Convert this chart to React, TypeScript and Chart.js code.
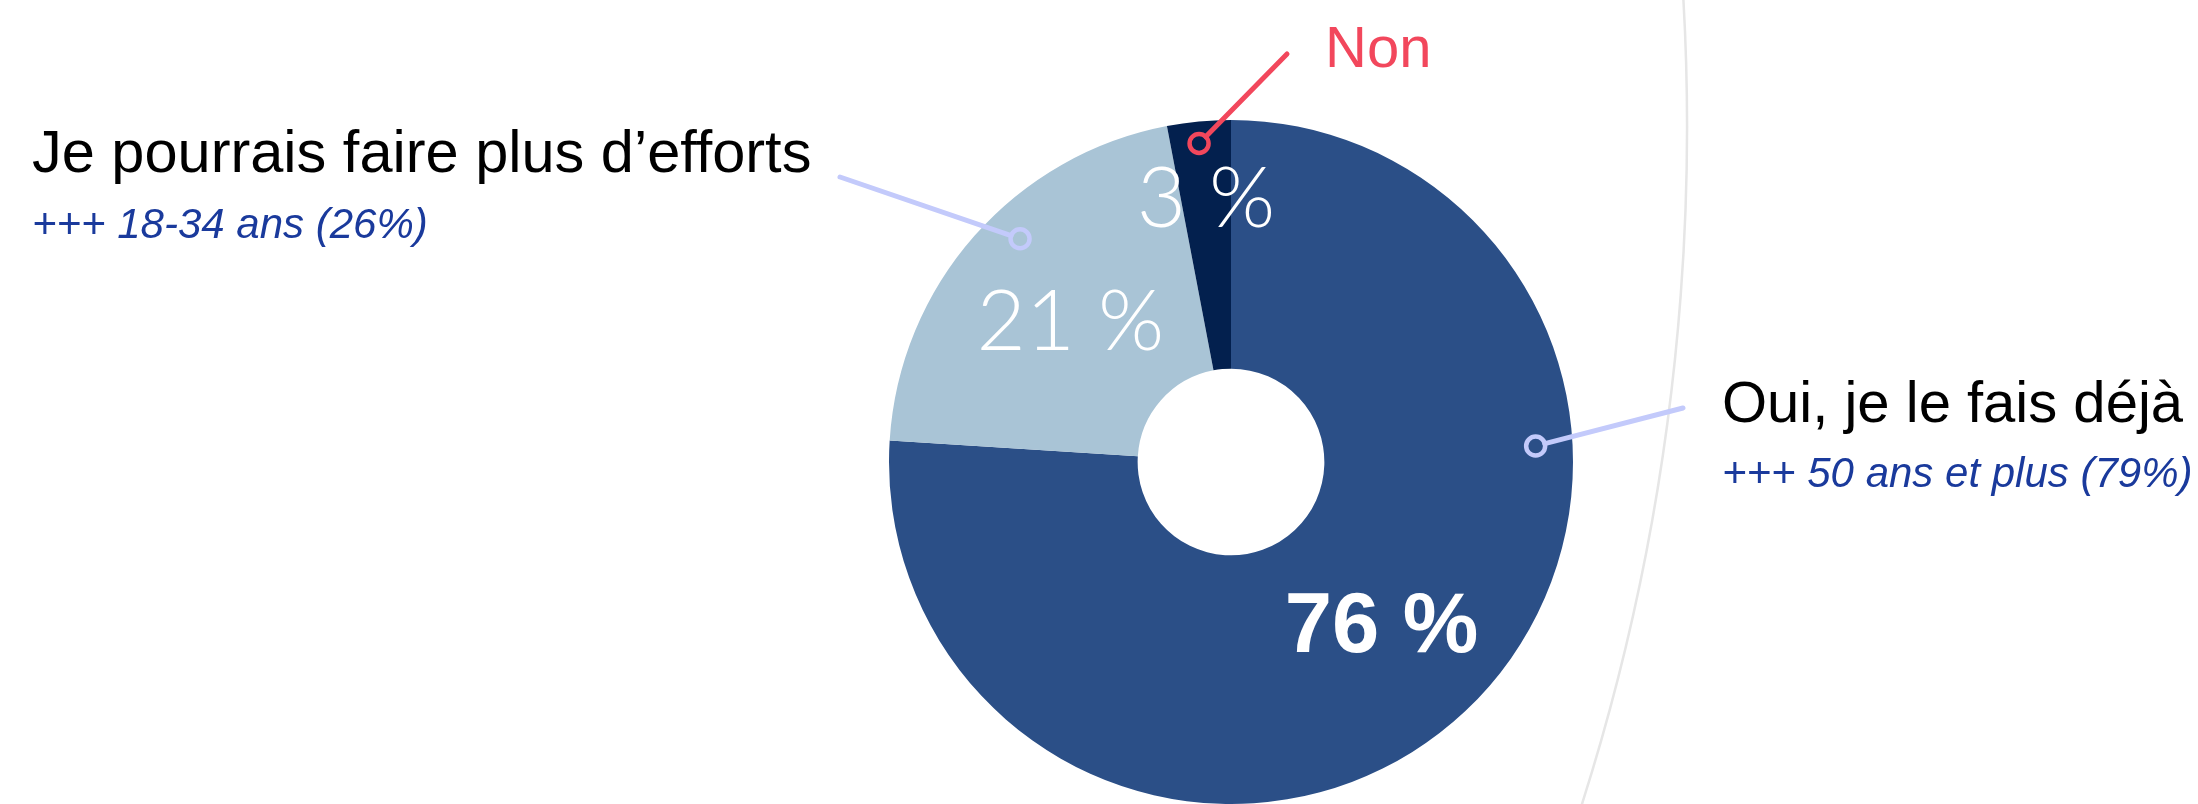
import React, { useEffect, useRef } from 'react';
import { Chart, registerables } from 'chart.js';

Chart.register(...registerables);

// ---- Data ----
const categories = ['Oui, je le fais déjà', 'Je pourrais faire plus d’efforts', 'Non'];
const values = [76, 21, 3];
const valueLabels = ['76 %', '21 %', '3 %'];
const subLabels = ['+++ 50 ans et plus (79%)', '+++ 18-34 ans (26%)', ''];
const sliceColors = ['#2B4F87', '#A9C4D6', '#03204E'];

// ---- Styling / annotation layout (not data) ----
const W = 2198;
const H = 804;
const valueRadiusFrac = [0.643, 0.626, 0.778];
const valueFonts = ['bold 85px "Liberation Sans", Arial, sans-serif', '300 85px Lato, sans-serif', '300 85px Lato, sans-serif'];
const anchorAngleFrac = [0.318, 0.569, 0.47];
const anchorRadiusFrac = [0.892, 0.898, 0.936];
const lineEnds = [[1683, 408], [840, 177], [1287, 54]];
const lineColors = ['#C3CAFB', '#C3CAFB', '#F2475C'];
const labelPos = [[1722, 422], [32, 172], [1325, 67]];
const labelSizes = [58, 59.5, 58];
const labelColors = ['#000000', '#000000', '#F2475C'];
const subPos = [[1722, 487], [32, 238], [0, 0]];

const annotations = {
  id: 'annotations',
  beforeDatasetsDraw(chart: any) {
    const ctx = chart.ctx;
    ctx.save();
    // large decorative arc
    ctx.strokeStyle = '#E6E6E6';
    ctx.lineWidth = 2.5;
    ctx.beginPath();
    ctx.arc(-541, 128, 2228, -0.2, 0.35);
    ctx.stroke();
    ctx.restore();
  },
  afterDatasetsDraw(chart: any) {
    const ctx = chart.ctx;
    const meta = chart.getDatasetMeta(0);
    ctx.save();
    meta.data.forEach((arc: any, i: number) => {
      const p = arc.getProps(['x', 'y', 'startAngle', 'endAngle', 'innerRadius', 'outerRadius'], true);
      const mid = (p.startAngle + p.endAngle) / 2;
      const rv = p.outerRadius * valueRadiusFrac[i];
      const vx = p.x + Math.cos(mid) * rv;
      const vy = p.y + Math.sin(mid) * rv;
      ctx.fillStyle = '#FFFFFF';
      ctx.font = valueFonts[i];
      ctx.textAlign = 'center';
      ctx.textBaseline = 'alphabetic';
      ctx.fillText(valueLabels[i], vx, vy + 30);

      // connector
      const a = p.startAngle + (p.endAngle - p.startAngle) * anchorAngleFrac[i];
      const ra = p.outerRadius * anchorRadiusFrac[i];
      const cx = p.x + Math.cos(a) * ra;
      const cy = p.y + Math.sin(a) * ra;
      const [ex, ey] = lineEnds[i];
      const d = Math.hypot(ex - cx, ey - cy);
      const cr = 9.5;
      ctx.strokeStyle = lineColors[i];
      ctx.lineCap = 'round';
      ctx.lineWidth = 5;
      ctx.beginPath();
      ctx.moveTo(cx + ((ex - cx) / d) * cr, cy + ((ey - cy) / d) * cr);
      ctx.lineTo(ex, ey);
      ctx.stroke();
      ctx.lineWidth = 4.5;
      ctx.beginPath();
      ctx.arc(cx, cy, cr, 0, Math.PI * 2);
      ctx.stroke();

      // labels
      ctx.textAlign = 'left';
      ctx.fillStyle = labelColors[i];
      ctx.font = `${labelSizes[i]}px "Liberation Sans", Arial, sans-serif`;
      ctx.fillText(chart.data.labels[i], labelPos[i][0], labelPos[i][1]);
      if (subLabels[i]) {
        ctx.fillStyle = '#1A3A9C';
        ctx.font = 'italic 42px "Liberation Sans", Arial, sans-serif';
        ctx.fillText(subLabels[i], subPos[i][0], subPos[i][1]);
      }
    });
    ctx.restore();
  },
};

export default function App() {
  const ref = useRef<HTMLCanvasElement>(null);
  useEffect(() => {
    document.body.style.margin = '0';
    const chart = new Chart(ref.current as HTMLCanvasElement, {
      type: 'doughnut',
      data: {
        labels: categories,
        datasets: [
          {
            data: values,
            backgroundColor: sliceColors,
            borderWidth: 0,
          },
        ],
      },
      options: {
        responsive: false,
        animation: false,
        events: [],
        cutout: '27.3%',
        layout: { padding: { left: 889, top: 120, right: 625, bottom: 0 } },
        plugins: {
          legend: { display: false },
          tooltip: { enabled: false },
        },
      },
      plugins: [annotations],
    });
    return () => chart.destroy();
  }, []);
  return (
    <div style={{ width: W, height: H, background: '#FFFFFF' }}>
      <canvas ref={ref} width={W} height={H} style={{ display: 'block', width: W, height: H }} />
    </div>
  );
}
